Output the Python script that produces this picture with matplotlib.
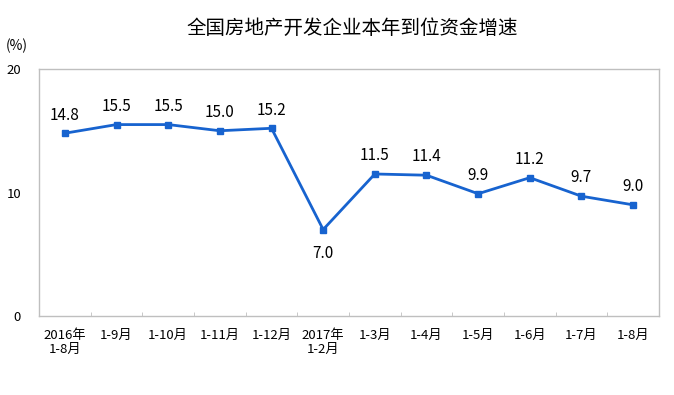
import matplotlib
matplotlib.use("Agg")
import matplotlib.pyplot as plt
import numpy as np

plt.rcParams["font.family"] = ["Noto Sans CJK SC", "DejaVu Sans"]

categories = ["2016年\n1-8月", "1-9月", "1-10月", "1-11月", "1-12月", "2017年\n1-2月",
              "1-3月", "1-4月", "1-5月", "1-6月", "1-7月", "1-8月"]
values = [14.8, 15.5, 15.5, 15.0, 15.2, 7.0, 11.5, 11.4, 9.9, 11.2, 9.7, 9.0]
title = "全国房地产开发企业本年到位资金增速"

line_color = "#1763CF"
spine_color = "#BFBFBF"

fig = plt.figure(figsize=(6.74, 3.95), dpi=100)
ax = fig.add_axes([0.0579, 0.2, 0.9198, 0.6253])

x = np.arange(len(values))
ax.plot(x, values, color=line_color, linewidth=2, marker="s", markersize=5)

for xi, v in zip(x, values):
    if v == min(values):
        ax.annotate(f"{v:.1f}", (xi, v), xytext=(0, -11), textcoords="offset points",
                    ha="center", va="top", fontsize=11)
    else:
        ax.annotate(f"{v:.1f}", (xi, v), xytext=(0, 7), textcoords="offset points",
                    ha="center", va="bottom", fontsize=11)

ax.set_xlim(-0.5, len(values) - 0.5)
ax.set_ylim(0, 20)
ax.set_yticks([0, 10, 20])
ax.tick_params(axis="y", length=0, pad=13, labelsize=9.5)

ax.set_xticks(x)
ax.set_xticklabels(categories, fontsize=9.5, linespacing=1.1)
ax.tick_params(axis="x", length=0, pad=9)
ax.set_xticks(np.arange(0.5, len(values) - 0.5, 1), minor=True)
ax.tick_params(axis="x", which="minor", direction="in", length=3, color=spine_color)

for s in ax.spines.values():
    s.set_color(spine_color)
    s.set_linewidth(1)

fig.text(0.523, 0.929, title, ha="center", va="center", fontsize=14)
fig.text(0.008, 0.885, "(%)", ha="left", va="center", fontsize=10)

plt.savefig("out.png", dpi=100)
